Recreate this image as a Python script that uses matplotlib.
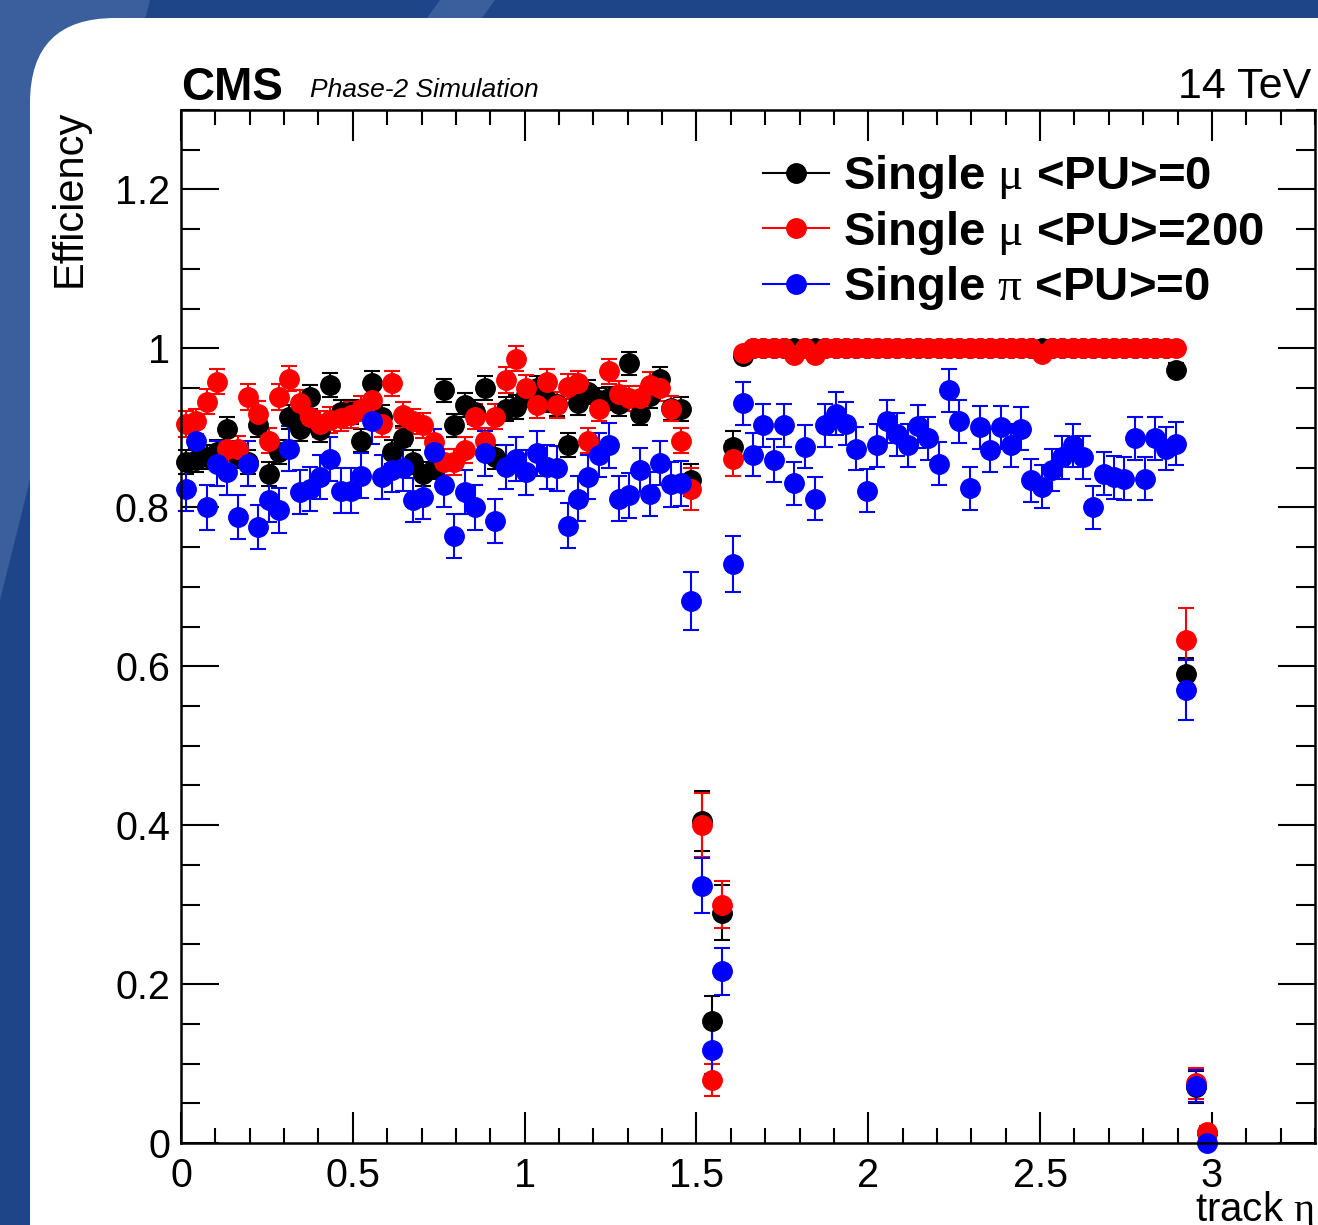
import numpy as np
import matplotlib as mpl
import matplotlib.pyplot as plt
from matplotlib.patches import FancyBboxPatch, Polygon
from matplotlib.lines import Line2D
from matplotlib.ticker import MultipleLocator, FuncFormatter

plt.rcParams['font.family'] = ['Liberation Sans', 'DejaVu Sans']
plt.rcParams['mathtext.fontset'] = 'custom'
plt.rcParams['mathtext.rm'] = 'Liberation Serif'

# 100 bins in |eta| from 0 to 3
eta_edges = np.linspace(0, 3, 101)
eta = 0.5 * (eta_edges[:-1] + eta_edges[1:])

# single muon, <PU>=0 (black)
eff_mu_pu0 = [
    0.857, 0.860, 0.863, 0.870, 0.899, 0.865, 0.857, 0.903, 0.842, 0.870,
    0.914, 0.899, 0.939, 0.897, 0.954, 0.920, 0.920, 0.884, 0.956, 0.914,
    0.870, 0.887, 0.857, 0.842, 0.850, 0.947, 0.903, 0.929, 0.920, 0.950,
    0.863, 0.924, 0.926, 0.941, 0.950, 0.935, 0.930, 0.878, 0.931, 0.945,
    0.935, 0.937, 0.930, 0.981, 0.918, 0.940, 0.962, 0.925, 0.924, 0.834,
    0.405, 0.153, 0.290, 0.876, 0.990, 1.000, 1.000, 1.000, 1.000, 1.000,
    1.000, 1.000, 1.000, 1.000, 1.000, 1.000, 1.000, 1.000, 1.000, 1.000,
    1.000, 1.000, 1.000, 1.000, 1.000, 1.000, 1.000, 1.000, 1.000, 1.000,
    1.000, 1.000, 1.000, 1.000, 1.000, 1.000, 1.000, 1.000, 1.000, 1.000,
    1.000, 1.000, 1.000, 1.000, 1.000, 1.000, 0.973, 0.590, 0.070, 0.012,
]
err_mu_pu0 = ([0.015] * 49 + [0.020, 0.038, 0.032, 0.035, 0.020, 0.005]
              + [0.0] * 41 + [0.008, 0.020, 0.020, 0.008])

# single muon, <PU>=200 (red)
eff_mu_pu200 = [
    0.905, 0.908, 0.933, 0.958, 0.874, 0.874, 0.939, 0.918, 0.884, 0.939,
    0.962, 0.931, 0.914, 0.905, 0.910, 0.912, 0.916, 0.924, 0.935, 0.905,
    0.956, 0.916, 0.908, 0.903, 0.882, 0.857, 0.857, 0.872, 0.914, 0.884,
    0.914, 0.960, 0.987, 0.950, 0.929, 0.958, 0.929, 0.952, 0.956, 0.884,
    0.924, 0.971, 0.943, 0.937, 0.937, 0.954, 0.950, 0.924, 0.884, 0.823,
    0.400, 0.079, 0.300, 0.861, 0.994, 1.000, 1.000, 1.000, 1.000, 0.992,
    1.000, 0.992, 1.000, 1.000, 1.000, 1.000, 1.000, 1.000, 1.000, 1.000,
    1.000, 1.000, 1.000, 1.000, 1.000, 1.000, 1.000, 1.000, 1.000, 1.000,
    1.000, 1.000, 1.000, 0.993, 1.000, 1.000, 1.000, 1.000, 1.000, 1.000,
    1.000, 1.000, 1.000, 1.000, 1.000, 1.000, 1.000, 0.633, 0.075, 0.014,
]
err_mu_pu200 = ([0.016] * 49 + [0.027, 0.040, 0.020, 0.030, 0.022, 0.005]
                + [0.0] * 42 + [0.040, 0.020, 0.008])

# single pion, <PU>=0 (blue)
eff_pi_pu0 = [
    0.823, 0.884, 0.800, 0.855, 0.844, 0.788, 0.855, 0.775, 0.809, 0.796,
    0.874, 0.819, 0.823, 0.838, 0.861, 0.821, 0.821, 0.840, 0.908, 0.838,
    0.847, 0.849, 0.809, 0.813, 0.870, 0.828, 0.764, 0.819, 0.800, 0.868,
    0.783, 0.851, 0.861, 0.844, 0.868, 0.851, 0.849, 0.777, 0.811, 0.838,
    0.866, 0.878, 0.811, 0.815, 0.847, 0.817, 0.856, 0.829, 0.830, 0.682,
    0.324, 0.117, 0.216, 0.729, 0.931, 0.866, 0.903, 0.859, 0.903, 0.830,
    0.876, 0.811, 0.903, 0.918, 0.905, 0.874, 0.821, 0.878, 0.908, 0.892,
    0.878, 0.902, 0.887, 0.855, 0.947, 0.908, 0.824, 0.901, 0.872, 0.901,
    0.878, 0.899, 0.834, 0.826, 0.847, 0.863, 0.878, 0.863, 0.800, 0.842,
    0.838, 0.836, 0.887, 0.836, 0.887, 0.874, 0.880, 0.570, 0.072, 0.000,
]
err_pi_pu0 = ([0.028] * 49 + [0.037, 0.035, 0.030, 0.030, 0.035]
              + [0.027] * 43 + [0.038, 0.020, 0.003])

series = [
    (eff_mu_pu0, err_mu_pu0, 'black', r'Single $\mathrm{\mu}$ <PU>=0'),
    (eff_mu_pu200, err_mu_pu200, '#ff0000', r'Single $\mathrm{\mu}$ <PU>=200'),
    (eff_pi_pu0, err_pi_pu0, '#0000ff', r'Single $\mathrm{\pi}$ <PU>=0'),
]

fig = plt.figure(figsize=(13.18, 12.25), dpi=100, facecolor='#1e4587')
px = mpl.transforms.IdentityTransform()
H = 1225

# background decoration
fig.add_artist(Polygon([(0, H), (150, H), (0, H - 600)], closed=True,
                       fc='#3b5f9c', ec='none', transform=px, zorder=-3))
fig.add_artist(Polygon([(440, H), (495, H), (482, H - 18), (427, H - 18)], closed=True,
                       fc='#3b5f9c', ec='none', transform=px, zorder=-3))
fig.add_artist(FancyBboxPatch((30, -200), 1500, H - 18 + 200,
                              boxstyle='round,pad=0,rounding_size=85',
                              fc='white', ec='none', transform=px, zorder=-2))

ax = fig.add_axes([181 / 1318, 82 / 1225, 1134 / 1318, 1033 / 1225])
ax.set_facecolor('white')

for eff, err, c, lab in series:
    ax.errorbar(eta, eff, yerr=err, fmt='o', color=c, ms=14, mec=c,
                elinewidth=1.5, capsize=6, capthick=1.5, clip_on=False)

ax.set_xlim(0, 3.3)
ax.set_ylim(0, 1.3)
ax.xaxis.set_major_locator(MultipleLocator(0.5))
ax.xaxis.set_minor_locator(MultipleLocator(0.1))
ax.yaxis.set_major_locator(MultipleLocator(0.2))
ax.yaxis.set_minor_locator(MultipleLocator(0.05))
fmt = FuncFormatter(lambda v, p: '%g' % round(v, 3))
ax.xaxis.set_major_formatter(fmt)
ax.yaxis.set_major_formatter(fmt)

ax.tick_params(which='both', direction='in', top=True, right=True, width=1.5)
ax.tick_params(axis='x', which='major', length=22, labelsize=28.5, pad=10)
ax.tick_params(axis='x', which='minor', length=11)
ax.tick_params(axis='y', which='major', length=27, labelsize=28.5, pad=8)
ax.tick_params(axis='y', which='minor', length=14)
for s in ax.spines.values():
    s.set_linewidth(1.8)

handles = [Line2D([], [], color=c, marker='o', ms=14, lw=1.5) for _, _, c, _ in series]
labels = [lab for _, _, _, lab in series]
ax.legend(handles, labels, loc='upper left', bbox_to_anchor=(0.513, 0.958),
          frameon=False, prop={'weight': 'bold', 'size': 34},
          handlelength=1.4, handletextpad=0.3, labelspacing=0.16,
          borderpad=0, borderaxespad=0)

fig.text(181 / 1318, (H - 100) / H, 'CMS', fontsize=33, fontweight='bold',
         ha='left', va='baseline')
fig.text(310 / 1318, (H - 97) / H, 'Phase-2 Simulation', fontsize=19, style='italic',
         ha='left', va='baseline')
fig.text(1311 / 1318, (H - 98) / H, '14 TeV', fontsize=31, ha='right', va='baseline')
fig.text(70 / 1318, (H - 110) / H, 'Efficiency', fontsize=30, rotation=90,
         ha='center', va='top')
fig.text(1314 / 1318, (H - 1221) / H, r'track $\mathrm{\eta}$', fontsize=29,
         ha='right', va='baseline')

fig.savefig('out.png', dpi=100, facecolor=fig.get_facecolor())
